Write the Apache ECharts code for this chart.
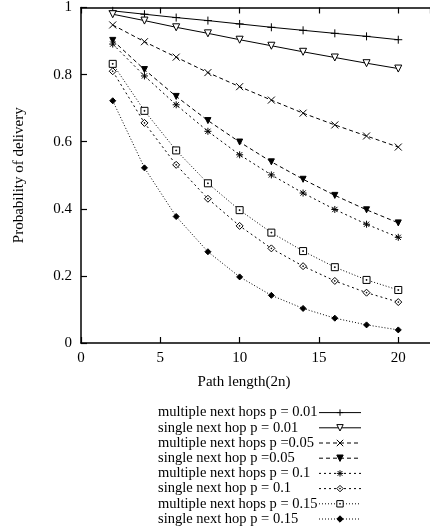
<!DOCTYPE html>
<html>
<head>
<meta charset="utf-8">
<script src="https://cdn.jsdelivr.net/npm/echarts@6/dist/echarts.min.js"></script>
<style>
  html, body { margin: 0; padding: 0; background: #fff; }
  #chart { width: 430px; height: 529px; }
</style>
</head>
<body>
<div id="chart"></div>
<script>
// Path lengths (2n) on the x axis
var pathLengths = [2, 4, 6, 8, 10, 12, 14, 16, 18, 20];

// Probability of delivery for each forwarding scheme and loss rate p
var multiP01  = [0.990, 0.980, 0.970, 0.961, 0.951, 0.941, 0.932, 0.923, 0.914, 0.904];
var singleP01 = [0.980, 0.961, 0.941, 0.923, 0.904, 0.886, 0.868, 0.851, 0.834, 0.818];
var multiP05  = [0.948, 0.898, 0.852, 0.806, 0.764, 0.724, 0.685, 0.650, 0.617, 0.584];
var singleP05 = [0.902, 0.815, 0.735, 0.663, 0.599, 0.540, 0.488, 0.440, 0.397, 0.358];
var multiP10  = [0.891, 0.796, 0.710, 0.631, 0.561, 0.501, 0.447, 0.398, 0.354, 0.315];
var singleP10 = [0.810, 0.656, 0.531, 0.430, 0.349, 0.282, 0.229, 0.185, 0.150, 0.122];
var multiP15  = [0.832, 0.692, 0.574, 0.476, 0.396, 0.329, 0.274, 0.226, 0.188, 0.158];
var singleP15 = [0.722, 0.522, 0.377, 0.272, 0.197, 0.142, 0.103, 0.074, 0.054, 0.039];

var seriesNames = [
  'multiple next hops p = 0.01',
  'single next hop p = 0.01',
  'multiple next hops p =0.05',
  'single next hop p =0.05',
  'multiple next hops p = 0.1',
  'single next hop p = 0.1',
  'multiple next hops p = 0.15',
  'single next hop p = 0.15'
];
var seriesValues = [multiP01, singleP01, multiP05, singleP05, multiP10, singleP10, multiP15, singleP15];

var yTickLabels = ['0', '0.2', '0.4', '0.6', '0.8', '1'];

var SERIF = '"Liberation Serif", "DejaVu Serif", serif';
var INK = '#000';

// Point styles (gnuplot-like markers)
var PLUS = 'path://M0,-1V1M-1,0H1';
var CROSS = 'path://M-1,-1L1,1M-1,1L1,-1';
var STAR = 'path://M-1,0H1M0,-1V1M-0.75,-0.75L0.75,0.75M-0.75,0.75L0.75,-0.75';
var BOX_DOT = 'path://M-1,-1H1V1H-1ZM-0.12,-0.12H0.12V0.12H-0.12Z';
var DIAMOND_DOT = 'path://M0,-1L1,0L0,1L-1,0ZM-0.1,-0.1H0.1V0.1H-0.1Z';

var markers = [
  { symbol: PLUS, size: 8, fill: 'none', rotate: 0 },
  { symbol: 'triangle', size: 7, fill: '#fff', rotate: 180 },
  { symbol: CROSS, size: 7, fill: 'none', rotate: 0 },
  { symbol: 'triangle', size: 6, fill: INK, rotate: 180 },
  { symbol: STAR, size: 7, fill: 'none', rotate: 0 },
  { symbol: DIAMOND_DOT, size: 7, fill: '#fff', rotate: 0 },
  { symbol: BOX_DOT, size: 7, fill: '#fff', rotate: 0 },
  { symbol: 'diamond', size: 6, fill: INK, rotate: 0 }
];

// Line dash per loss rate: solid, dashed, short dashed, dotted
var dashes = ['solid', 'solid', [4, 3], [4, 3], [2, 3], [2, 3], [1, 2], [1, 2]];

var series = seriesNames.map(function (name, i) {
  var m = markers[i];
  return {
    name: name,
    type: 'line',
    data: pathLengths.map(function (x, k) { return [x, seriesValues[i][k]]; }),
    symbol: m.symbol,
    symbolSize: m.size,
    symbolRotate: m.rotate,
    showAllSymbol: true,
    lineStyle: { color: INK, width: 1, type: dashes[i] },
    itemStyle: { color: m.fill, borderColor: INK, borderWidth: 1 },
    emphasis: { disabled: true },
    z: 2
  };
});

var chart = echarts.init(document.getElementById('chart'), null, { renderer: 'canvas' });

var axisFont = { color: INK, fontFamily: SERIF, fontSize: 15 };

chart.setOption({
  animation: false,
  backgroundColor: '#fff',
  grid: { left: 81, top: 3, width: 359, height: 340 },
  xAxis: [
    {
      type: 'value', min: 0, max: 22, interval: 5, position: 'bottom',
      axisLine: { show: true, onZero: false, lineStyle: { color: INK, width: 1.5 } },
      axisTick: { show: true, inside: true, length: 6, lineStyle: { color: INK, width: 1.2 } },
      axisLabel: Object.assign({ margin: 8, showMaxLabel: false }, axisFont),
      splitLine: { show: false }
    },
    {
      type: 'value', min: 0, max: 22, interval: 5, position: 'top',
      axisLine: { show: true, onZero: false, lineStyle: { color: INK, width: 1.5 } },
      axisTick: { show: true, inside: true, length: 6, lineStyle: { color: INK, width: 1.2 } },
      axisLabel: { show: false },
      splitLine: { show: false }
    }
  ],
  yAxis: {
    type: 'value', min: 0, max: 1, interval: 0.2,
    name: 'Probability of delivery',
    nameLocation: 'middle', nameGap: 54, nameRotate: 90,
    nameTextStyle: axisFont,
    axisLine: { show: true, onZero: false, lineStyle: { color: INK, width: 1.5 } },
    axisTick: { show: true, inside: true, length: 6, lineStyle: { color: INK, width: 1.2 } },
    axisLabel: Object.assign({
      margin: 9,
      formatter: function (v) { return yTickLabels[Math.round(v / 0.2)]; }
    }, axisFont),
    splitLine: { show: false }
  },
  legend: {
    orient: 'vertical',
    left: 158, top: 405,
    padding: 0,
    align: 'right',
    itemWidth: 42, itemHeight: 8, itemGap: 0,
    selectedMode: false,
    lineStyle: { width: 1 },
    itemStyle: { borderWidth: 1 },
    formatter: '{t|{name}}',
    textStyle: {
      color: INK, fontFamily: SERIF, fontSize: 14.5, lineHeight: 15.2,
      rich: { t: { width: 156, align: 'left', fontFamily: SERIF, fontSize: 14.5, lineHeight: 15.2, color: INK } }
    },
    data: seriesNames
  },
  graphic: [
    {
      type: 'text',
      style: { text: 'Path length(2n)', x: 244, y: 382, align: 'center', verticalAlign: 'middle',
               font: '15px ' + SERIF, fill: INK }
    }
  ],
  series: series
});
</script>
</body>
</html>
